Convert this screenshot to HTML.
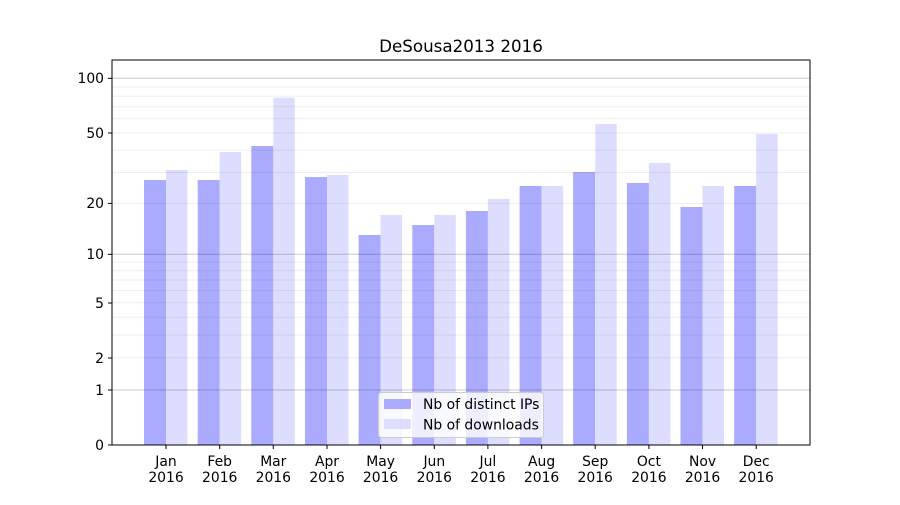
<!DOCTYPE html>
<html><head><meta charset="utf-8"><style>
body{margin:0;background:#fff;}
text{font-family:"DejaVu Sans","Liberation Sans",sans-serif;fill:#000;}
</style></head><body>
<svg width="900" height="500" xmlns="http://www.w3.org/2000/svg">
<rect width="900" height="500" fill="#fff"/>
<g id="bars">
<rect x="144" y="180" width="22" height="265" fill="#aaaaff"/><rect x="166" y="170" width="21.5" height="275" fill="#ddddff"/>
<rect x="197.7" y="180" width="22" height="265" fill="#aaaaff"/><rect x="219.7" y="152" width="21.5" height="293" fill="#ddddff"/>
<rect x="251.3" y="146" width="22" height="299" fill="#aaaaff"/><rect x="273.3" y="97.7" width="21.5" height="347.3" fill="#ddddff"/>
<rect x="305" y="177" width="22" height="268" fill="#aaaaff"/><rect x="327" y="175" width="21.5" height="270" fill="#ddddff"/>
<rect x="358.6" y="235" width="22" height="210" fill="#aaaaff"/><rect x="380.6" y="215" width="21.5" height="230" fill="#ddddff"/>
<rect x="412.3" y="225" width="22" height="220" fill="#aaaaff"/><rect x="434.3" y="215" width="21.5" height="230" fill="#ddddff"/>
<rect x="465.9" y="211" width="22" height="234" fill="#aaaaff"/><rect x="487.9" y="199" width="21.5" height="246" fill="#ddddff"/>
<rect x="519.6" y="186" width="22" height="259" fill="#aaaaff"/><rect x="541.6" y="186" width="21.5" height="259" fill="#ddddff"/>
<rect x="573.2" y="172" width="22" height="273" fill="#aaaaff"/><rect x="595.2" y="124" width="21.5" height="321" fill="#ddddff"/>
<rect x="626.9" y="183" width="22" height="262" fill="#aaaaff"/><rect x="648.9" y="163" width="21.5" height="282" fill="#ddddff"/>
<rect x="680.5" y="207" width="22" height="238" fill="#aaaaff"/><rect x="702.5" y="186" width="21.5" height="259" fill="#ddddff"/>
<rect x="734.2" y="186" width="22" height="259" fill="#aaaaff"/><rect x="756.2" y="134" width="21.5" height="311" fill="#ddddff"/>
</g>
<g stroke="#000" stroke-opacity="0.07" stroke-width="1">
<line x1="112" x2="810" y1="357.8" y2="357.8"/><line x1="112" x2="810" y1="335" y2="335"/><line x1="112" x2="810" y1="317.3" y2="317.3"/><line x1="112" x2="810" y1="302.8" y2="302.8"/><line x1="112" x2="810" y1="290.6" y2="290.6"/><line x1="112" x2="810" y1="280" y2="280"/><line x1="112" x2="810" y1="270.7" y2="270.7"/><line x1="112" x2="810" y1="262.3" y2="262.3"/>
<line x1="112" x2="810" y1="203.4" y2="203.4"/><line x1="112" x2="810" y1="172.5" y2="172.5"/><line x1="112" x2="810" y1="150.3" y2="150.3"/><line x1="112" x2="810" y1="133" y2="133"/><line x1="112" x2="810" y1="118.8" y2="118.8"/><line x1="112" x2="810" y1="106.8" y2="106.8"/><line x1="112" x2="810" y1="96.3" y2="96.3"/><line x1="112" x2="810" y1="87.1" y2="87.1"/>
</g>
<g stroke="#000" stroke-opacity="0.2" stroke-width="1">
<line x1="112" x2="810" y1="390" y2="390"/><line x1="112" x2="810" y1="254.3" y2="254.3"/><line x1="112" x2="810" y1="78.3" y2="78.3"/>
</g>
<rect x="112" y="60" width="698" height="385" fill="none" stroke="#000" stroke-width="1"/>
<g stroke="#000" stroke-width="1">
<line x1="108" x2="112" y1="445" y2="445"/><line x1="108" x2="112" y1="390" y2="390"/><line x1="108" x2="112" y1="358" y2="358"/><line x1="108" x2="112" y1="303" y2="303"/><line x1="108" x2="112" y1="254.3" y2="254.3"/><line x1="108" x2="112" y1="203.4" y2="203.4"/><line x1="108" x2="112" y1="133" y2="133"/><line x1="108" x2="112" y1="78.3" y2="78.3"/>
</g>
<g font-size="13.9" text-anchor="end">
<text x="104" y="450">0</text><text x="104" y="395">1</text><text x="104" y="363">2</text><text x="104" y="308">5</text><text x="104" y="259">10</text><text x="104" y="208">20</text><text x="104" y="138">50</text><text x="104" y="83">100</text>
</g>
<g stroke="#000"><line x1="166" x2="166" y1="445" y2="449"/><line x1="219.7" x2="219.7" y1="445" y2="449"/><line x1="273.3" x2="273.3" y1="445" y2="449"/><line x1="327" x2="327" y1="445" y2="449"/><line x1="380.6" x2="380.6" y1="445" y2="449"/><line x1="434.3" x2="434.3" y1="445" y2="449"/><line x1="487.9" x2="487.9" y1="445" y2="449"/><line x1="541.6" x2="541.6" y1="445" y2="449"/><line x1="595.2" x2="595.2" y1="445" y2="449"/><line x1="648.9" x2="648.9" y1="445" y2="449"/><line x1="702.5" x2="702.5" y1="445" y2="449"/><line x1="756.2" x2="756.2" y1="445" y2="449"/></g>
<g font-size="13.9" text-anchor="middle">
<text x="166" y="466">Jan</text><text x="166" y="482">2016</text>
<text x="219.7" y="466">Feb</text><text x="219.7" y="482">2016</text>
<text x="273.3" y="466">Mar</text><text x="273.3" y="482">2016</text>
<text x="327" y="466">Apr</text><text x="327" y="482">2016</text>
<text x="380.6" y="466">May</text><text x="380.6" y="482">2016</text>
<text x="434.3" y="466">Jun</text><text x="434.3" y="482">2016</text>
<text x="487.9" y="466">Jul</text><text x="487.9" y="482">2016</text>
<text x="541.6" y="466">Aug</text><text x="541.6" y="482">2016</text>
<text x="595.2" y="466">Sep</text><text x="595.2" y="482">2016</text>
<text x="648.9" y="466">Oct</text><text x="648.9" y="482">2016</text>
<text x="702.5" y="466">Nov</text><text x="702.5" y="482">2016</text>
<text x="756.2" y="466">Dec</text><text x="756.2" y="482">2016</text>
</g>
<text x="461" y="52" font-size="16.7" text-anchor="middle">DeSousa2013 2016</text>
<rect x="378.5" y="392.5" width="165" height="45" rx="3" fill="#fff" fill-opacity="0.8" stroke="#ccc"/>
<rect x="384" y="399" width="27" height="10" fill="#aaaaff"/>
<rect x="384" y="419" width="27" height="10" fill="#ddddff"/>
<text x="423" y="409" font-size="13.9">Nb of distinct IPs</text>
<text x="423" y="429.5" font-size="13.9">Nb of downloads</text>
</svg>
</body></html>
